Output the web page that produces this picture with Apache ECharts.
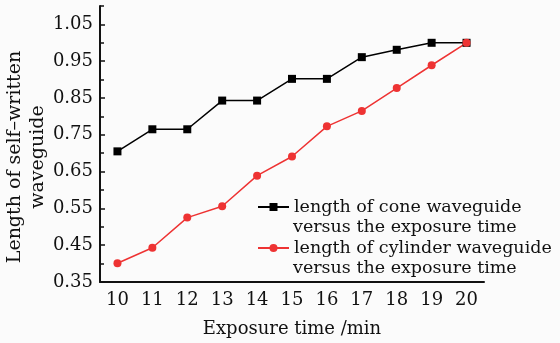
<!DOCTYPE html>
<html><head><meta charset="utf-8">
<script src="https://cdn.jsdelivr.net/npm/echarts@6/dist/echarts.min.js"></script>
<style>html,body{margin:0;padding:0;background:#fbfbfb}#c{width:560px;height:343px}</style>
</head><body><div id="c"></div>
<script>
const categories = ['10','11','12','13','14','15','16','17','18','19','20'];
const coneValues = [0.705,0.765,0.765,0.843,0.843,0.902,0.902,0.961,0.981,1.0,1.0];
const cylinderValues = [0.401,0.443,0.525,0.556,0.639,0.691,0.773,0.815,0.877,0.939,1.0];
const yMajorTicks = [0.35,0.45,0.55,0.65,0.75,0.85,0.95,1.05];
const yMinorTicks = [0.40,0.50,0.60,0.70,0.80,0.90,1.00,1.10];
const coneName = 'length of cone waveguide';
const cylName = 'length of cylinder waveguide';
const contLine = 'versus the exposure time';

const FONT = 'DejaVu Serif';
const chart = echarts.init(document.getElementById('c'));
chart.setOption({
  backgroundColor: '#fbfbfb',
  animation: false,
  grid: {left: 100, right: 76, top: 6, bottom: 49},
  xAxis: [{
    type: 'category', data: categories, boundaryGap: true, position: 'bottom',
    name: 'Exposure time /min', nameLocation: 'middle', nameGap: 38,
    nameTextStyle: {fontFamily: FONT, fontSize: 18, color: '#111'},
    axisLine: {lineStyle: {color: '#111', width: 2}},
    axisTick: {inside: true, alignWithLabel: true, length: 5, lineStyle: {color: '#111', width: 1.5}},
    axisLabel: {fontFamily: FONT, fontSize: 18, color: '#111', margin: 9},
    splitLine: {show: false}
  },{
    type: 'category', data: categories, boundaryGap: true, position: 'bottom',
    axisLine: {show: false},
    axisTick: {inside: true, length: 4, lineStyle: {color: '#111', width: 1.5}},
    axisLabel: {show: false},
    splitLine: {show: false}
  }],
  yAxis: [{
    type: 'value', min: 0.35, max: 1.10, position: 'left',
    axisLine: {show: true, lineStyle: {color: '#111', width: 2}},
    axisTick: {show: true, inside: true, length: 5, customValues: yMajorTicks, lineStyle: {color: '#111', width: 1.5}},
    axisLabel: {customValues: yMajorTicks, formatter: v => v.toFixed(2), fontFamily: FONT, fontSize: 18, color: '#111', margin: 7},
    splitLine: {show: false}
  },{
    type: 'value', min: 0.35, max: 1.10, position: 'left',
    axisLine: {show: false},
    axisTick: {show: true, inside: true, length: 4, customValues: yMinorTicks, lineStyle: {color: '#111', width: 1.5}},
    axisLabel: {show: false},
    splitLine: {show: false}
  }],
  legend: {
    orient: 'vertical', left: 257, top: 197, padding: 0, itemWidth: 31, itemHeight: 10, itemGap: 21,
    textStyle: {fontFamily: FONT, fontSize: 17.5, color: '#111', lineHeight: 20},
    data: [coneName, cylName]
  },
  graphic: [
    {type: 'text', x: 293, y: 227, style: {text: contLine, font: '17.5px "DejaVu Serif"', fill: '#111', verticalAlign: 'middle'}},
    {type: 'text', x: 293, y: 268, style: {text: contLine, font: '17.5px "DejaVu Serif"', fill: '#111', verticalAlign: 'middle'}},
    {type: 'text', x: 27, y: 157, rotation: Math.PI/2,
     style: {text: 'Length of self–written\nwaveguide', font: '19px "DejaVu Serif"', fill: '#111', align: 'center', verticalAlign: 'middle', lineHeight: 23}}
  ],
  series: [{
    name: coneName, type: 'line', data: coneValues, xAxisIndex: 0, yAxisIndex: 0,
    symbol: 'rect', symbolSize: 8, itemStyle: {color: '#000'}, lineStyle: {color: '#000', width: 1.5}
  },{
    name: cylName, type: 'line', data: cylinderValues, xAxisIndex: 0, yAxisIndex: 0,
    symbol: 'circle', symbolSize: 8, itemStyle: {color: '#ee3333'}, lineStyle: {color: '#ee3333', width: 1.5}
  }]
});
</script></body></html>
